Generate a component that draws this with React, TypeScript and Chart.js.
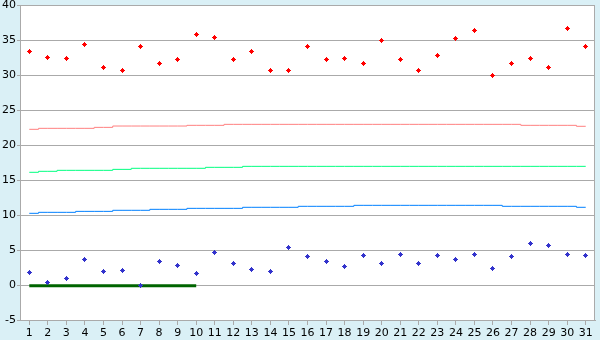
import React, { useEffect, useRef } from "react";
import { Chart, registerables } from "chart.js";

Chart.register(...registerables);

const categories = ["1","2","3","4","5","6","7","8","9","10","11","12","13","14","15","16","17","18","19","20","21","22","23","24","25","26","27","28","29","30","31"];

const redPoints = [33.4,32.5,32.4,34.4,31.1,30.7,34.0,31.7,32.2,35.8,35.4,32.2,33.4,30.7,30.7,34.0,32.2,32.4,31.7,35.0,32.2,30.7,32.8,35.2,36.4,30.0,31.7,32.4,31.1,36.7,34.0];
const bluePoints = [1.8,0.4,1.0,3.7,2.0,2.1,0.0,3.4,2.8,1.7,4.7,3.1,2.2,2.0,5.4,4.1,3.4,2.7,4.2,3.1,4.4,3.1,4.2,3.7,4.4,2.4,4.1,6.0,5.7,4.4,4.2];

const redLine = [22.24,22.38,22.38,22.38,22.52,22.71,22.71,22.71,22.71,22.81,22.81,22.95,22.95,22.95,22.95,22.95,22.95,22.95,22.95,22.95,22.95,22.95,22.95,22.95,22.95,22.95,22.95,22.81,22.81,22.81,22.67];
const greenLine = [16.1,16.24,16.38,16.38,16.38,16.52,16.67,16.67,16.67,16.67,16.81,16.81,16.95,16.95,16.95,16.95,16.95,16.95,16.95,16.95,16.95,16.95,16.95,16.95,16.95,16.95,16.95,16.95,16.95,16.95,16.95];
const blueLine = [10.24,10.38,10.38,10.52,10.52,10.67,10.67,10.81,10.81,10.95,10.95,10.95,11.1,11.1,11.1,11.24,11.24,11.24,11.38,11.38,11.38,11.38,11.38,11.38,11.38,11.38,11.24,11.24,11.24,11.24,11.1];
const darkGreenLine = [-0.1,-0.1,-0.1,-0.1,-0.1,-0.1,-0.1,-0.1,-0.1,-0.1];

const yMin = -5;
const yMax = 40;
const yStep = 5;

const GRID = "#aaaaaa";
const BG = "rgb(218,240,246)";
const FONT = { family: "'DejaVu Sans', Verdana, sans-serif", size: 11 };

const framePlugin = {
  id: "frame",
  beforeDraw(chart: any) {
    const { ctx, chartArea: a } = chart;
    ctx.save();
    ctx.fillStyle = "#ffffff";
    ctx.fillRect(a.left, a.top, a.right - a.left, a.bottom - a.top);
    ctx.restore();
  },
  afterDraw(chart: any) {
    const { ctx, chartArea: a } = chart;
    ctx.save();
    ctx.strokeStyle = GRID;
    ctx.lineWidth = 1;
    const x = Math.round(a.right) - 0.5;
    ctx.beginPath();
    ctx.moveTo(x, Math.round(a.top) + 0.5);
    ctx.lineTo(x, Math.round(a.bottom) + 0.5);
    ctx.stroke();
    ctx.restore();
  },
};

const markerPlugin = {
  id: "markers",
  afterDatasetsDraw(chart: any) {
    const ctx = chart.ctx;
    chart.data.datasets.forEach((ds: any, i: number) => {
      if (!ds.markerColor) return;
      const meta = chart.getDatasetMeta(i);
      ctx.save();
      ctx.fillStyle = ds.markerColor;
      meta.data.forEach((pt: any) => {
        if (pt.skip) return;
        const cx = Math.floor(pt.x);
        const cy = Math.floor(pt.y);
        for (let dy = -2; dy <= 2; dy++) {
          const half = 2 - Math.abs(dy);
          ctx.fillRect(cx - half, cy + dy, 2 * half + 1, 1);
        }
      });
      ctx.restore();
    });
  },
};

export default function App() {
  const ref = useRef<HTMLCanvasElement | null>(null);

  useEffect(() => {
    if (!ref.current) return;
    const chart = new Chart(ref.current, {
      type: "line",
      data: {
        labels: categories,
        datasets: [
          {
            data: redPoints,
            showLine: false,
            pointRadius: 0,
            markerColor: "#ff0000",
          } as any,
          {
            data: bluePoints,
            showLine: false,
            pointRadius: 0,
            markerColor: "#3333cc",
          } as any,
          {
            data: darkGreenLine,
            borderColor: "#006400",
            borderWidth: 3,
            pointRadius: 0,
          },
          {
            data: redLine,
            borderColor: "#ff8080",
            borderWidth: 1,
            pointRadius: 0,
            stepped: "middle",
          },
          {
            data: greenLine,
            borderColor: "#00ff80",
            borderWidth: 1,
            pointRadius: 0,
            stepped: "middle",
          },
          {
            data: blueLine,
            borderColor: "#0080ff",
            borderWidth: 1,
            pointRadius: 0,
            stepped: "middle",
          },
        ],
      },
      options: {
        animation: false,
        responsive: false,
        events: [],
        layout: { padding: { left: 0, top: 5, right: 5, bottom: 0 } },
        plugins: { legend: { display: false }, tooltip: { enabled: false } },
        scales: {
          x: {
            type: "category",
            offset: true,
            grid: {
              drawOnChartArea: false,
              drawTicks: true,
              tickLength: 5,
              color: GRID,
              offset: false,
            },
            border: { display: true, color: GRID },
            ticks: {
              color: "#000000",
              font: FONT,
              padding: 2,
              maxRotation: 0,
              autoSkip: false,
            },
            afterFit(scale: any) {
              scale.height = 20;
              scale.paddingLeft = 0;
              scale.paddingRight = 0;
            },
          },
          y: {
            min: yMin,
            max: yMax,
            grid: {
              color: GRID,
              drawTicks: true,
              tickLength: 3,
            },
            border: { display: true, color: GRID },
            ticks: {
              stepSize: yStep,
              color: "#000000",
              font: FONT,
              padding: 1,
            },
            afterFit(scale: any) {
              scale.width = 20;
              scale.paddingTop = 0;
              scale.paddingBottom = 0;
            },
          },
        },
      },
      plugins: [framePlugin, markerPlugin],
    });
    return () => chart.destroy();
  }, []);

  return (
    <div
      style={{
        position: "fixed",
        left: 0,
        top: 0,
        width: 600,
        height: 340,
        background: BG,
      }}
    >
      <canvas ref={ref} width={600} height={340} style={{ display: "block" }} />
    </div>
  );
}
